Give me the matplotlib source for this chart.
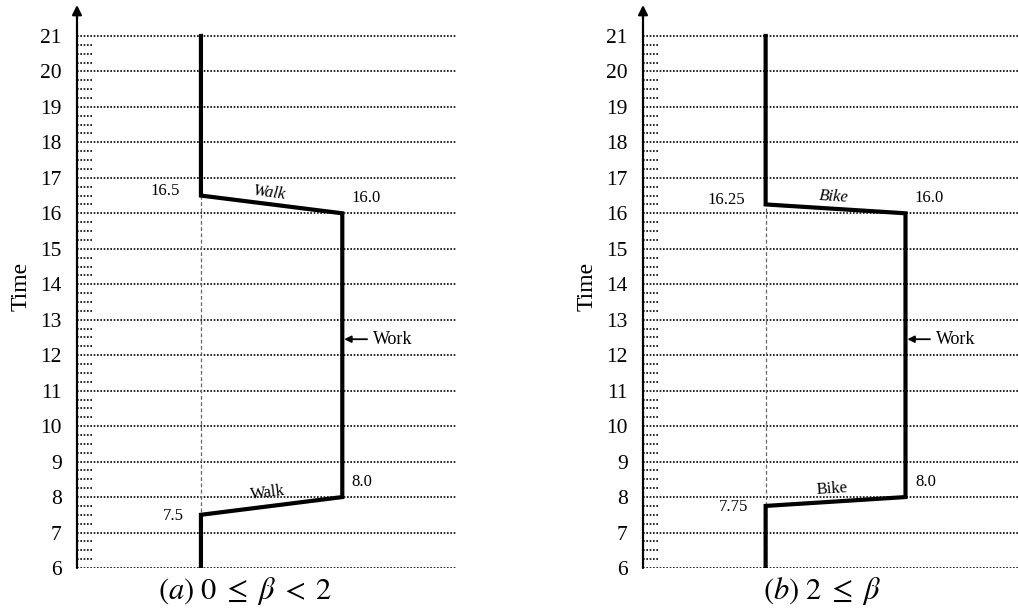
"""Daily schedule diagrams: home -> work -> home for two beta ranges."""

import matplotlib

matplotlib.use("Agg")
import matplotlib.pyplot as plt
import numpy as np

plt.rcParams["font.family"] = ["Liberation Serif", "DejaVu Serif"]
plt.rcParams["mathtext.fontset"] = "stix"

HOURS = list(range(6, 22))
DAY_START = 6.0
DAY_END = 21.0
WORK_START = 8.0
WORK_END = 16.0

# departure / arrival times at home for each case
LEAVE_A = 7.5
BACK_A = 16.5
LEAVE_B = 7.75
BACK_B = 16.25

MODE_A = "Walk"
MODE_B = "Bike"
CAPTIONS = [r"$(a)\ 0\;\leq\;\beta\;<\;2$", r"$(b)\ 2\;\leq\;\beta$"]

W, H = 1018, 615
HOME_X = 0.327
WORK_X = 0.70
PX_PER_HOUR = 35.47
Y_TOP = DAY_START + (568 - 5) / PX_PER_HOUR


def draw_panel(ax, leave, back, mode, fmt):
    ax.set_xlim(0, 1)
    ax.set_ylim(DAY_START, Y_TOP)
    for s in ax.spines.values():
        s.set_visible(False)

    # hour grid lines and quarter-hour stubs
    for h in HOURS:
        ax.plot([0, 1], [h, h], color="black", lw=1.2, ls=(0, (1, 1)), zorder=1)
    quarters = [h + q for h in HOURS[:-1] for q in (0.25, 0.5, 0.75)]
    for q in quarters:
        ax.plot([0, 0.042], [q, q], color="black", lw=1.2, ls=(0, (1, 1)), zorder=1)

    # vertical axis with arrow
    ax.annotate("", xy=(0, 1), xytext=(0, 0), xycoords="axes fraction",
                arrowprops=dict(arrowstyle="-|>", color="black", lw=1.6,
                                mutation_scale=14, shrinkA=0, shrinkB=0))

    ax.set_yticks(HOURS)
    ax.set_yticklabels([str(h) for h in HOURS], fontsize=15.5)
    ax.tick_params(axis="y", length=0, pad=11)
    ax.set_xticks([])
    ax.set_ylabel("Time", fontsize=17, labelpad=6)

    # home reference dashed line
    ax.plot([HOME_X, HOME_X], [DAY_START, back], color="#666666", lw=0.9,
            ls=(0, (3, 2)), zorder=2)

    xs = [HOME_X, HOME_X, WORK_X, WORK_X, HOME_X, HOME_X]
    ys = [DAY_END, back, WORK_END, WORK_START, leave, DAY_START]
    ax.plot(xs, ys, color="black", lw=3.0, solid_joinstyle="miter", zorder=3)

    ang_up = np.degrees(np.arctan2((back - WORK_END) * PX_PER_HOUR,
                                   (WORK_X - HOME_X) * 379))
    ang_dn = np.degrees(np.arctan2((WORK_START - leave) * PX_PER_HOUR,
                                   (WORK_X - HOME_X) * 379))

    ax.text(HOME_X - 0.055, back + 0.12, fmt(back), fontsize=12, ha="right", va="center")
    ax.text(WORK_X + 0.025, WORK_END + 0.42, "16.0", fontsize=12, ha="left", va="center")
    ax.text(WORK_X + 0.025, WORK_START + 0.42, "8.0", fontsize=12, ha="left", va="center")
    ax.text(HOME_X - 0.045, leave - 0.02, fmt(leave), fontsize=12, ha="right", va="center")

    mid = (HOME_X + WORK_X) / 2
    ax.text(mid - 0.005, (back + WORK_END) / 2 + 0.33, mode, fontsize=12, style="italic",
            ha="center", va="center", rotation=-ang_up)
    ax.text(mid - 0.01, (leave + WORK_START) / 2 + 0.36, mode, fontsize=12,
            ha="center", va="center", rotation=ang_dn)

    ax.annotate("Work", xy=(WORK_X + 0.005, 12.45), xytext=(WORK_X + 0.08, 12.45),
                fontsize=13, va="center", ha="left",
                arrowprops=dict(arrowstyle="-|>", color="black", lw=1.3,
                                mutation_scale=10, shrinkA=2, shrinkB=0))


fig = plt.figure(figsize=(W / 100, H / 100), dpi=100)
ax_a = fig.add_axes([77 / W, (H - 568) / H, 379 / W, 563 / H])
ax_b = fig.add_axes([643 / W, (H - 568) / H, 375 / W, 563 / H])

draw_panel(ax_a, LEAVE_A, BACK_A, MODE_A, lambda v: f"{v:g}")
draw_panel(ax_b, LEAVE_B, BACK_B, MODE_B, lambda v: f"{v:g}")

fig.text(245 / W, (H - 591) / H, CAPTIONS[0], fontsize=22, ha="center", va="center")
fig.text(822 / W, (H - 591) / H, CAPTIONS[1], fontsize=22, ha="center", va="center")

fig.savefig("out.png", dpi=100)
plt.close(fig)
